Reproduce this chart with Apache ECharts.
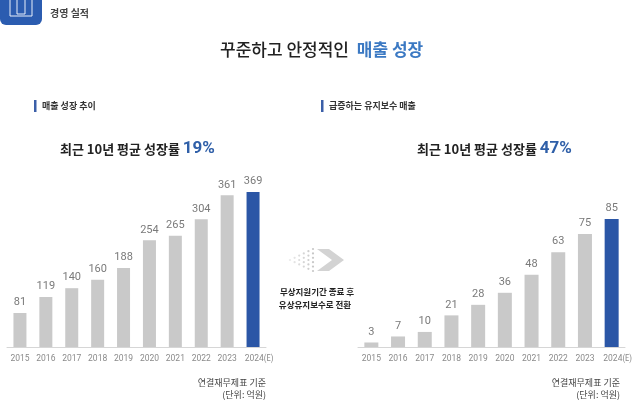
<!DOCTYPE html>
<html><head><meta charset="utf-8">
<script src="https://cdn.jsdelivr.net/npm/echarts@6/dist/echarts.min.js"></script>
<style>html,body{margin:0;padding:0;background:#fff}#c{width:640px;height:411px}</style>
</head><body><div id="c"></div>
<script>
const years = ['2015','2016','2017','2018','2019','2020','2021','2022','2023','2024(E)'];
const salesValues = [81,119,140,160,188,254,265,304,361,369];
const maintValues = [3,7,10,21,28,36,48,63,75,85];
const GRAY = '#c9c9c9', BLUE = '#2b56a6';
const FONT = '"Noto Sans CJK KR","Noto Sans",sans-serif';

function barData(vals){
  return vals.map((v,i)=>({value:v,itemStyle:{color:i===vals.length-1?BLUE:GRAY}}));
}
const chart = echarts.init(document.getElementById('c'));
const xAx = (gi)=>({type:'category',gridIndex:gi,data:years,boundaryGap:true,
  axisLine:{lineStyle:{color:'#d6d6d6',width:1}},axisTick:{show:false},
  axisLabel:{color:'#8a8a8a',fontSize:8.5,fontFamily:'Roboto, sans-serif',margin:7,interval:0,
    formatter:(v)=>{const m=v.match(/^(\d+)(\(E\))$/);return m?'{p|}{n|'+m[1]+'}{e|'+m[2]+'}':v;},
    rich:{n:{fontSize:8.5,color:'#8a8a8a',fontFamily:'Roboto, sans-serif'},
          e:{fontSize:8.5,color:'#8a8a8a',fontFamily:'"Roboto Condensed", "Liberation Sans Narrow", Roboto, sans-serif'},
          p:{width:12}}}});
const yAx = (gi,max)=>({type:'value',gridIndex:gi,min:0,max:max,show:false,splitLine:{show:false}});
const lbl = {show:true,position:'top',color:'#7a7a7a',fontSize:11,fontFamily:'Roboto, sans-serif',distance:5};

function headline(x,pct){
  return {type:'text',x:x,y:149,style:{
    text:'{a|최근 10년 평균 성장률 }{b|'+pct+'}',verticalAlign:'middle',
    rich:{a:{fill:'#222',fontSize:13,fontWeight:'bold',fontFamily:FONT},
          b:{fill:'#2f5fa8',fontSize:17,fontWeight:'bold',fontFamily:'Roboto, '+FONT}}}};
}

chart.setOption({
  animation:false,
  textStyle:{fontFamily:FONT},
  grid:[
    {left:7,width:259,top:192,height:155},
    {left:358,width:267,top:219,height:128}
  ],
  xAxis:[xAx(0),xAx(1)],
  yAxis:[yAx(0,369),yAx(1,85)],
  series:[
    {type:'bar',xAxisIndex:0,yAxisIndex:0,data:barData(salesValues),barWidth:13,label:lbl},
    {type:'bar',xAxisIndex:1,yAxisIndex:1,data:barData(maintValues),barWidth:14,label:lbl}
  ],
  graphic:[
    {type:'rect',shape:{x:0,y:-10,width:42,height:35,r:6},style:{fill:'#2b5cb0'}},
    {type:'rect',shape:{x:10,y:-4,width:22,height:20},style:{fill:'none',stroke:'#e8eefa',lineWidth:1}},
    {type:'rect',shape:{x:17,y:-4,width:8,height:18},style:{fill:'none',stroke:'#e8eefa',lineWidth:1}},
    {type:'text',x:50,y:13,style:{text:'경영 실적',fill:'#444',font:'bold 10px '+FONT,verticalAlign:'middle'}},
    {type:'text',x:220,y:50,style:{text:'{a|꾸준하고 안정적인 }{b|매출 성장}',verticalAlign:'middle',
      rich:{a:{fill:'#222',fontSize:17,fontWeight:500,fontFamily:FONT,padding:[0,4,0,0]},b:{fill:'#3b79c3',fontSize:17,fontWeight:'bold',fontFamily:FONT}}}},
    {type:'rect',shape:{x:34,y:100,width:2.5,height:12},style:{fill:'#3b5fa8'}},
    {type:'text',x:42,y:106,style:{text:'매출 성장 추이',fill:'#333',font:'bold 9px '+FONT,verticalAlign:'middle'}},
    {type:'rect',shape:{x:321,y:100,width:2.5,height:12},style:{fill:'#3b5fa8'}},
    {type:'text',x:329,y:106,style:{text:'급증하는 유지보수 매출',fill:'#333',font:'bold 9px '+FONT,verticalAlign:'middle'}},
    headline(60,'19%'),
    headline(417,'47%'),
    {type:'polygon',shape:{points:[[317,249],[329,249],[344,260],[329,271],[317,271],[332,260]]},style:{fill:'#d3d3d3'}},
    ...(()=>{const arr=[];for(let c=0;c<6;c++){const n=c+1;for(let r=0;r<n;r++){const x=290+c*4.6;const y=260-(n-1)*2.2+r*4.4;arr.push({type:'circle',shape:{cx:x,cy:y,r:1.1},style:{fill:'#c4c4c4',opacity:0.35+c*0.12}});}}return arr;})(),
    {type:'text',x:317,y:292,style:{text:'무상지원기간 종료 후',fill:'#222',font:'bold 8.5px '+FONT,align:'center',verticalAlign:'middle'}},
    {type:'text',x:315,y:305,style:{text:'유상유지보수로 전환',fill:'#222',font:'bold 8.5px '+FONT,align:'center',verticalAlign:'middle'}},
    {type:'text',x:266,y:383,style:{text:'연결재무제표 기준',fill:'#444',font:'9px '+FONT,align:'right',verticalAlign:'middle'}},
    {type:'text',x:266,y:395,style:{text:'(단위: 억원)',fill:'#444',font:'9px '+FONT,align:'right',verticalAlign:'middle'}},
    {type:'text',x:620,y:383,style:{text:'연결재무제표 기준',fill:'#444',font:'9px '+FONT,align:'right',verticalAlign:'middle'}},
    {type:'text',x:620,y:395,style:{text:'(단위: 억원)',fill:'#444',font:'9px '+FONT,align:'right',verticalAlign:'middle'}}
  ]
});
</script></body></html>
